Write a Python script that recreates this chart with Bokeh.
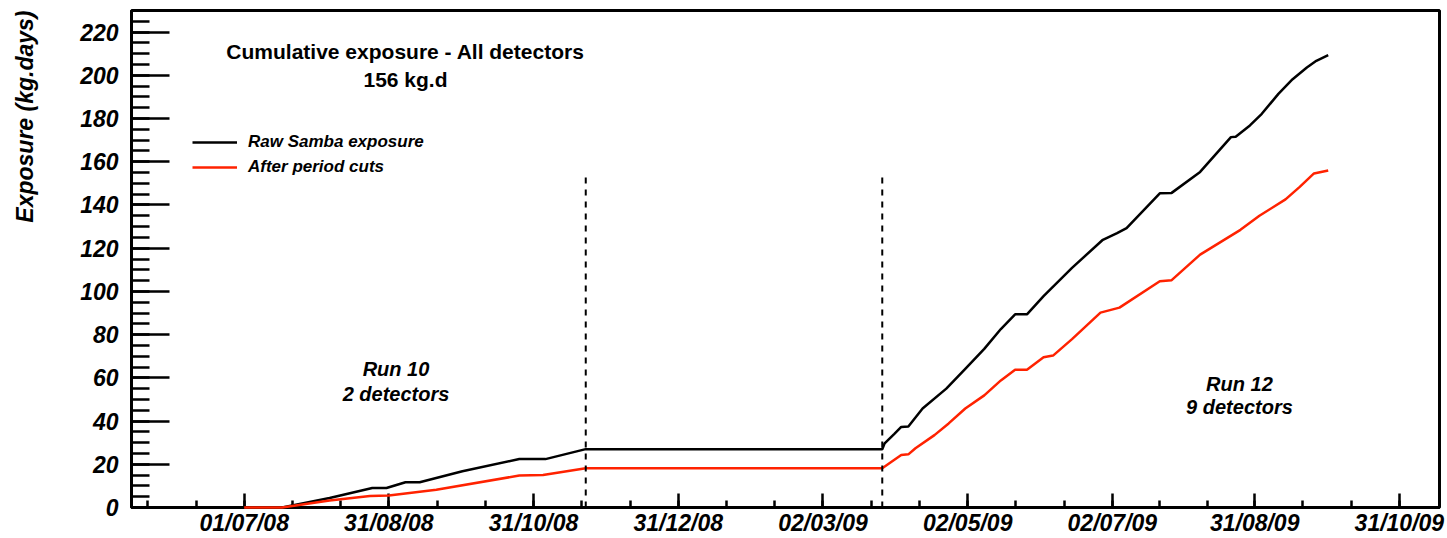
import pandas as pd
from bokeh.plotting import figure
from bokeh.models import (Range1d, FixedTicker, DatetimeTickFormatter, Label,
                          Legend, LegendItem, Title)
from bokeh.embed import file_html
from bokeh.resources import INLINE

# Cumulative exposure (kg.days), Run 10 then Run 12
raw_dates = ["2008-07-01", "2008-07-17", "2008-08-06", "2008-08-24", "2008-08-30",
             "2008-09-07", "2008-09-13", "2008-10-01", "2008-10-25", "2008-11-05",
             "2008-11-22", "2009-03-27", "2009-03-28", "2009-04-01", "2009-04-04",
             "2009-04-07", "2009-04-13", "2009-04-23", "2009-05-01", "2009-05-09",
             "2009-05-16", "2009-05-22", "2009-05-27", "2009-06-03", "2009-06-15",
             "2009-06-28", "2009-07-04", "2009-07-08", "2009-07-22", "2009-07-27",
             "2009-08-08", "2009-08-21", "2009-08-23", "2009-08-29", "2009-09-03",
             "2009-09-10", "2009-09-16", "2009-09-22", "2009-09-26", "2009-10-01"]
raw_exposure = [0.0, 0.0, 4.4, 9.0, 9.0,
                11.7, 11.7, 16.8, 22.4, 22.4,
                27.0, 27.0, 29.7, 34.0, 37.3,
                37.5, 45.8, 55.0, 64.2, 73.4,
                82.6, 89.4, 89.4, 97.8, 110.9,
                123.9, 127.0, 129.3, 145.4, 145.6,
                155.3, 171.4, 171.6, 176.8, 182.2,
                191.4, 198.2, 203.6, 206.7, 209.3]

cut_dates = ["2008-07-01", "2008-07-17", "2008-08-06", "2008-08-23", "2008-08-31",
             "2008-09-20", "2008-10-25", "2008-11-04", "2008-11-22", "2009-03-27",
             "2009-03-30", "2009-04-04", "2009-04-07", "2009-04-10", "2009-04-18",
             "2009-04-24", "2009-05-01", "2009-05-09", "2009-05-16", "2009-05-22",
             "2009-05-27", "2009-06-03", "2009-06-07", "2009-06-15", "2009-06-27",
             "2009-07-05", "2009-07-22", "2009-07-27", "2009-08-08", "2009-08-25",
             "2009-09-02", "2009-09-13", "2009-09-19", "2009-09-25", "2009-10-01"]
cut_exposure = [0.0, 0.0, 3.2, 5.3, 5.6,
                8.2, 14.8, 15.0, 18.2, 18.2,
                20.5, 24.3, 24.6, 27.4, 33.5,
                38.9, 45.8, 51.9, 58.8, 63.8,
                63.8, 69.5, 70.3, 77.9, 90.2,
                92.5, 104.7, 105.2, 117.0, 128.5,
                135.0, 142.6, 148.4, 154.6, 156.0]

# end of Run 10 / start of Run 12
run_boundaries = ["2008-11-22", "2009-03-27"]
boundary_top = 155

tick_dates = ["2008-07-01", "2008-08-31", "2008-10-31", "2008-12-31", "2009-03-02",
              "2009-05-02", "2009-07-02", "2009-08-31", "2009-10-31"]
y_major = list(range(0, 221, 20))
y_minor = list(range(0, 226, 5))


def ms(s):
    return pd.Timestamp(s).value / 1e6


major_ms = [ms(d) for d in tick_dates]
step = (major_ms[-1] - major_ms[0]) / (len(major_ms) - 1)
minor_ms = [major_ms[0] - 2 * step / 3, major_ms[0] - step / 3]
for a, b in zip(major_ms[:-1], major_ms[1:]):
    minor_ms += [a, a + (b - a) / 3, a + 2 * (b - a) / 3]
minor_ms.append(major_ms[-1])

FONT = "Liberation Sans"
RED = "#ff2200"

p = figure(width=1447, height=538, x_axis_type="datetime",
           x_range=Range1d(ms("2008-05-14 12:00"), ms("2009-11-16 22:00")),
           y_range=Range1d(0, 230),
           output_backend="svg", toolbar_location=None,
           min_border_left=131, min_border_right=8,
           min_border_top=10, min_border_bottom=28)
p.background_fill_color = "white"
p.border_fill_color = "white"
p.outline_line_color = "black"
p.outline_line_width = 3
p.xgrid.visible = False
p.ygrid.visible = False

r_raw = p.line(x=pd.to_datetime(raw_dates), y=raw_exposure,
               line_color="black", line_width=2.5, level="overlay")
r_cut = p.line(x=pd.to_datetime(cut_dates), y=cut_exposure,
               line_color=RED, line_width=2.5, level="overlay")

bx = pd.to_datetime(run_boundaries)
p.segment(x0=bx, y0=[0] * len(bx), x1=bx, y1=[boundary_top] * len(bx),
          line_color="black", line_width=2, line_dash="6 6", level="overlay")

# axes
for ax in (p.xaxis[0], p.yaxis[0]):
    ax.axis_line_width = 3
    ax.axis_line_color = "black"
    ax.major_tick_line_width = 2.5
    ax.minor_tick_line_width = 2.5
    ax.major_tick_out = 0
    ax.minor_tick_out = 0
    ax.major_label_text_font = FONT
    ax.major_label_text_font_style = "bold italic"
    ax.major_label_text_color = "black"

p.yaxis.ticker = FixedTicker(ticks=y_major, minor_ticks=y_minor)
p.yaxis.major_tick_in = 38
p.yaxis.minor_tick_in = 18
p.yaxis.major_label_standoff = 13
p.yaxis.major_label_text_font_size = "23px"
# blank axis label: keeps a gap between the tick labels and the title
p.yaxis.axis_label = " "
p.yaxis.axis_label_text_font_size = "10px"
p.yaxis.axis_label_standoff = 21

p.xaxis.ticker = FixedTicker(ticks=major_ms, minor_ticks=minor_ms)
fmt = "%d/%m/%y"
p.xaxis.formatter = DatetimeTickFormatter(days=fmt, months=fmt, years=fmt,
                                          hours=fmt, hourmin=fmt)
p.xaxis.major_tick_in = 14
p.xaxis.minor_tick_in = 7
p.xaxis.major_label_standoff = 2
p.xaxis.major_label_text_font_size = "23px"

# y-axis title, pushed to the top end of the axis
p.add_layout(Title(text="Exposure (kg.days)", align="right",
                   text_font=FONT, text_font_style="bold italic",
                   text_font_size="23px", text_color="black"), "left")


def note(x, y, text, size, style):
    p.add_layout(Label(x=ms(x), y=y, text=text, text_align="center",
                       text_baseline="alphabetic", text_font=FONT,
                       text_font_style=style, text_font_size=size,
                       text_color="black"))


note("2008-09-07", 211, "Cumulative exposure - All detectors", "21px", "bold")
note("2008-09-07", 198, "156 kg.d", "21px", "bold")
note("2008-09-03", 64, "Run 10", "20px", "bold italic")
note("2008-09-03", 52.4, "2 detectors", "20px", "bold italic")
note("2009-08-24 14:00", 57.3, "Run 12", "20px", "bold italic")
note("2009-08-24 14:00", 46.7, "9 detectors", "20px", "bold italic")

legend = Legend(items=[LegendItem(label="Raw Samba exposure", renderers=[r_raw]),
                       LegendItem(label="After period cuts", renderers=[r_cut])],
                location=(61, 330), padding=0, margin=0, spacing=5,
                glyph_width=45, glyph_height=20, label_height=20,
                label_standoff=11, label_text_font=FONT,
                label_text_font_style="bold italic", label_text_color="black",
                label_text_font_size="17px", border_line_color=None,
                background_fill_alpha=0)
p.add_layout(legend)

open("out.html", "w").write(file_html(p, INLINE))
